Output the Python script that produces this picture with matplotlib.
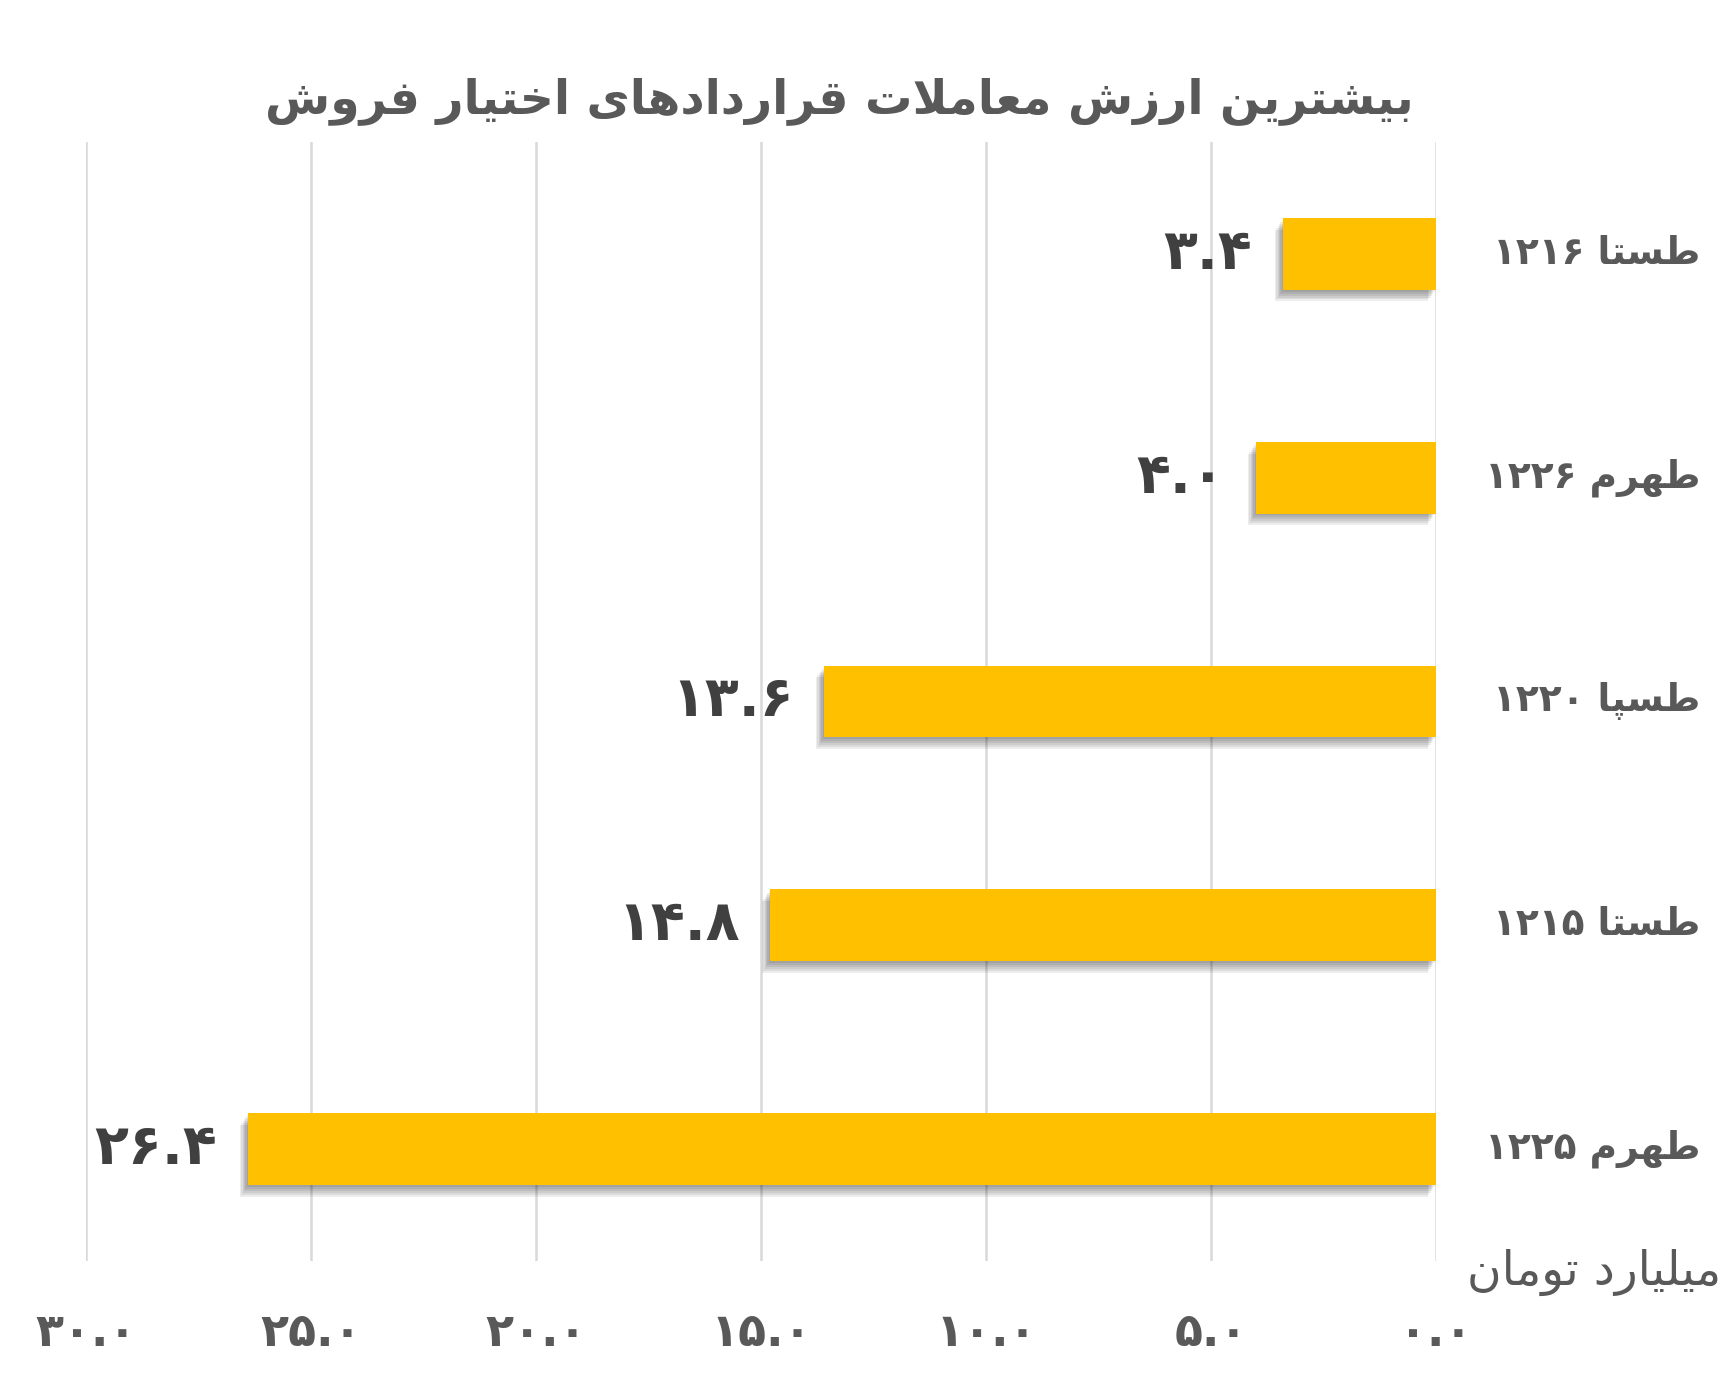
import re
import numpy as np
import matplotlib
matplotlib.use("Agg")
import matplotlib.pyplot as plt
import matplotlib.patheffects as pe

# presentation forms: isolated, final, initial, medial (None for right-joining letters)
FORMS = {
    "ا": ("\uFE8D", "\uFE8E", None, None),
    "ب": ("\uFE8F", "\uFE90", "\uFE91", "\uFE92"),
    "پ": ("\uFB56", "\uFB57", "\uFB58", "\uFB59"),
    "ت": ("\uFE95", "\uFE96", "\uFE97", "\uFE98"),
    "خ": ("\uFEA5", "\uFEA6", "\uFEA7", "\uFEA8"),
    "د": ("\uFEA9", "\uFEAA", None, None),
    "ر": ("\uFEAD", "\uFEAE", None, None),
    "ز": ("\uFEAF", "\uFEB0", None, None),
    "س": ("\uFEB1", "\uFEB2", "\uFEB3", "\uFEB4"),
    "ش": ("\uFEB5", "\uFEB6", "\uFEB7", "\uFEB8"),
    "ط": ("\uFEC1", "\uFEC2", "\uFEC3", "\uFEC4"),
    "ع": ("\uFEC9", "\uFECA", "\uFECB", "\uFECC"),
    "ف": ("\uFED1", "\uFED2", "\uFED3", "\uFED4"),
    "ق": ("\uFED5", "\uFED6", "\uFED7", "\uFED8"),
    "ل": ("\uFEDD", "\uFEDE", "\uFEDF", "\uFEE0"),
    "م": ("\uFEE1", "\uFEE2", "\uFEE3", "\uFEE4"),
    "ن": ("\uFEE5", "\uFEE6", "\uFEE7", "\uFEE8"),
    "ه": ("\uFEE9", "\uFEEA", "\uFEEB", "\uFEEC"),
    "و": ("\uFEED", "\uFEEE", None, None),
    "ی": ("\uFBFC", "\uFBFD", "\uFBFE", "\uFBFF"),
}


def shape(word):
    out = []
    i = 0
    n = len(word)
    while i < n:
        ch = word[i]
        if ch not in FORMS:
            out.append(ch)
            i += 1
            continue
        prev = word[i - 1] if i > 0 else None
        join_prev = prev in FORMS and FORMS[prev][2] is not None and i > 0
        if ch == "ل" and i + 1 < n and word[i + 1] == "ا":
            out.append("\uFEFC" if join_prev else "\uFEFB")
            i += 2
            continue
        nxt = word[i + 1] if i + 1 < n else None
        join_next = FORMS[ch][2] is not None and nxt in FORMS
        iso, fin, ini, med = FORMS[ch]
        if join_prev and join_next:
            out.append(med)
        elif join_prev:
            out.append(fin)
        elif join_next:
            out.append(ini)
        else:
            out.append(iso)
        i += 1
    return "".join(out)


def fa(text):
    runs = re.findall(r"[۰-۹.]+|[^۰-۹.]+", text)
    vis = []
    for r in reversed(runs):
        if re.fullmatch(r"[۰-۹.]+", r):
            vis.append(r)
        else:
            vis.append(shape(r)[::-1])
    return "".join(vis)


def fa_num(v):
    return "{:.1f}".format(v).translate(str.maketrans("0123456789", "۰۱۲۳۴۵۶۷۸۹"))


title = "بیشترین ارزش معاملات قراردادهای اختیار فروش"
unit_label = "میلیارد تومان"
categories = ["طستا ۱۲۱۶", "طهرم ۱۲۲۶", "طسپا ۱۲۲۰", "طستا ۱۲۱۵", "طهرم ۱۲۲۵"]
values = [3.4, 4.0, 13.6, 14.8, 26.4]
ticks = [0, 5, 10, 15, 20, 25, 30]

plt.rcParams["font.family"] = ["DejaVu Sans"]

fig = plt.figure(figsize=(17.35, 13.79), dpi=100)
ax = fig.add_axes([0.0496, 0.0856, 0.7781, 0.8114])

y = np.arange(len(categories))
shadow = [pe.SimplePatchShadow(offset=(-o, -o * 1.4), shadow_rgbFace="black", alpha=0.07)
          for o in (1, 2, 3, 4, 5, 6)]
bars = ax.barh(y, values, height=0.32, color="#FFC000", zorder=3)
for b in bars:
    b.set_path_effects(shadow + [pe.Normal()])

ax.set_xlim(30, 0)
ax.set_ylim(len(categories) - 0.5, -0.5)
ax.set_xticks(ticks)
ax.xaxis.grid(True, color="#D9D9D9", linewidth=1.8, zorder=0)
ax.set_axisbelow(True)
ax.tick_params(axis="both", length=0)
ax.set_yticks([])
ax.set_xticklabels([fa_num(t) for t in ticks], fontsize=33, fontweight="bold", color="#595959")
ax.tick_params(axis="x", pad=36)
for s in ax.spines.values():
    s.set_visible(False)

for yi, v in zip(y, values):
    ax.annotate(fa_num(v), (v, yi), xytext=(-22, 0), textcoords="offset points",
                ha="right", va="center", fontsize=40, fontweight="bold", color="#404040")

for yi, c in zip(y, categories):
    ax.annotate(fa(c), (1.0, yi), xycoords=("axes fraction", "data"), xytext=(190, 0),
                textcoords="offset points", ha="right", va="center", fontsize=27,
                fontweight="bold", color="#595959")

ax.annotate(fa(unit_label), (1.0, 0), xycoords="axes fraction", xytext=(205, 9),
            textcoords="offset points", ha="right", va="top", fontsize=34, color="#595959")

fig.text(0.484, 0.927, fa(title), ha="center", va="center", fontsize=34,
         fontweight="bold", color="#595959")

fig.savefig("out.png", dpi=100)
